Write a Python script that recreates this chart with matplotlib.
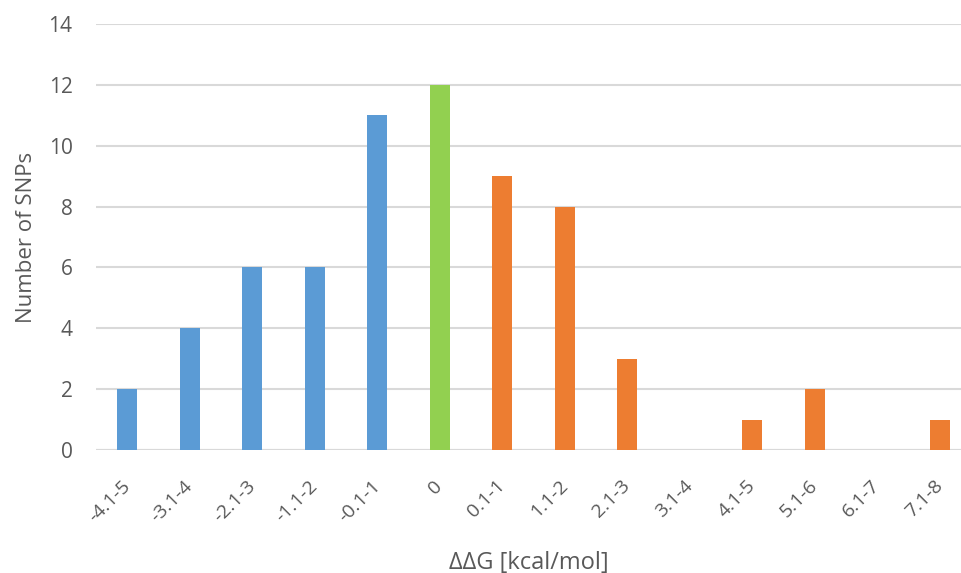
import matplotlib.pyplot as plt

# SNP counts per stability-change bin
bins = ["-4.1-5", "-3.1-4", "-2.1-3", "-1.1-2", "-0.1-1", "0",
        "0.1-1", "1.1-2", "2.1-3", "3.1-4", "4.1-5", "5.1-6", "6.1-7", "7.1-8"]
counts = [2, 4, 6, 6, 11, 12, 9, 8, 3, 0, 1, 2, 0, 1]
groups = ["neg"] * 5 + ["zero"] + ["pos"] * 8

palette = {"neg": "#5b9bd5", "zero": "#92d050", "pos": "#ed7d31"}
text_color = "#595959"

plt.rcParams['font.family'] = ['Open Sans', 'DejaVu Sans']

fig = plt.figure(figsize=(9.61, 5.73), dpi=100)
ax = fig.add_axes([0.1, 0.2147, 0.9, 0.7435])

x = list(range(len(bins)))
ax.bar(x, counts, width=0.32, color=[palette[g] for g in groups], zorder=3)

ax.set_ylim(0, 14)
ax.set_yticks(range(0, 15, 2))
ax.set_xlim(-0.5, 13.34)
ax.grid(axis='y', color='#d9d9d9', linewidth=1.5, zorder=0)
for side in ['top', 'right', 'left', 'bottom']:
    ax.spines[side].set_visible(False)
ax.axhline(0, color='#d9d9d9', linewidth=1.5, zorder=1)

ax.set_xticks(x)
ax.set_xticklabels(bins, rotation=45, ha='right', va='center',
                   rotation_mode='anchor', fontsize=14, color=text_color)
ax.tick_params(axis='x', length=0, pad=24)
ax.tick_params(axis='y', length=0, pad=17, labelsize=15, labelcolor=text_color)

ax.set_ylabel("Number of SNPs", fontsize=16, color=text_color, labelpad=8)
ax.set_xlabel("ΔΔG [kcal/mol]", fontsize=17, color=text_color, labelpad=18)

fig.savefig("out.png", dpi=100)
